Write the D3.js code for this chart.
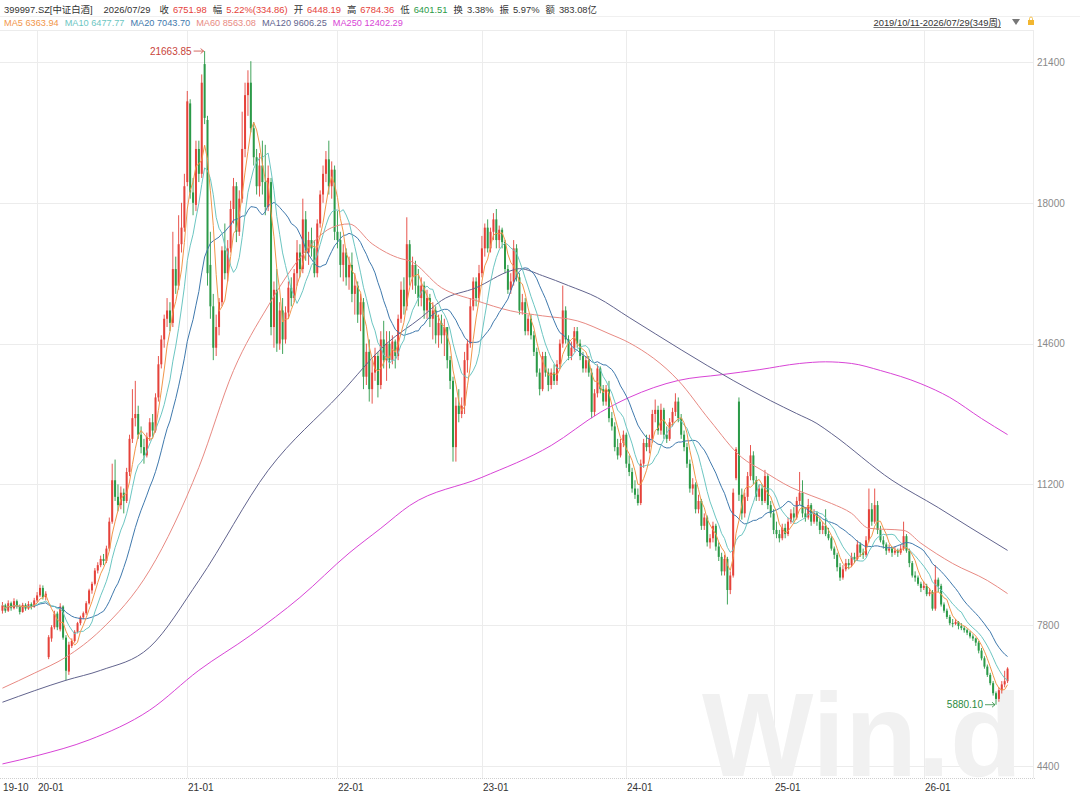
<!DOCTYPE html>
<html>
<head>
<meta charset="utf-8">
<script src="https://cdn.jsdelivr.net/npm/d3@7"></script>
<style>
  body { margin: 0; background: #fff; }
  text { font-family: "Liberation Sans", "Noto Sans CJK SC", sans-serif; }
</style>
</head>
<body>
<div id="chart"></div>
<script>
// weekly candles [open, high, low, close], 2019/10/11 - 2026/07/29 (349 weeks)
var candles = [
  // 2019-10 .. 2019-12
  [8150,8360,8080,8280],[8280,8320,8100,8150],[8150,8400,8120,8330],[8330,8370,8150,8210],
  [8210,8450,8180,8380],[8380,8420,8200,8260],[8260,8300,8060,8120],[8120,8340,8100,8290],
  [8290,8330,8150,8200],[8200,8380,8170,8310],[8310,8350,8180,8240],[8240,8460,8220,8400],
  // 2020
  [8400,8600,8350,8520],[8520,8780,8480,8700],[8700,8760,8420,8480],[8480,8620,8400,8560],
  [7030,7560,6980,7510],[7480,7800,7400,7750],[7750,8150,7700,8080],[8080,8130,7680,7750],
  [7700,8330,7650,8250],[8250,8280,7450,7500],[7500,7560,6470,6700],[6680,7400,6600,7330],
  [7300,7480,7250,7420],[7420,7680,7380,7640],[7640,7880,7600,7850],[7850,8030,7800,7990],
  [7990,8130,7950,8090],[8090,8380,8050,8330],[8330,8680,8300,8640],[8640,8850,8560,8800],
  [8800,9180,8760,9120],[9120,9320,9050,9250],[9250,9480,9200,9400],[9400,9520,9250,9350],
  [9350,9720,9300,9650],[9650,10400,9600,10300],[10300,11700,10250,11300],[11300,11800,10800,10900],
  [10900,11200,10550,10700],[10700,11150,10600,11000],[11000,11100,10500,10800],[10800,11600,10750,11500],
  [11500,12400,11400,12300],[12300,13500,12200,12800],[12800,13700,12600,12900],[12900,13100,12300,12400],
  [12400,12600,11950,12100],[12100,12300,11700,11900],[11900,12450,11850,12350],[12350,12800,12250,12700],
  [12700,12900,12350,12500],[12500,13400,12450,13300],[13300,14300,13200,14100],[14100,14800,14000,14700],
  [14700,15300,14500,15200],[15200,15700,15000,15400],[15400,15600,14900,15100],[15100,17300,15000,16400],
  [16400,16700,15800,16000],[16000,17700,15900,17000],[17000,18000,16800,17400],[17400,18700,17300,18400],
  // 2021
  [18500,20700,18400,20450],[20400,20500,18100,18250],[18250,18600,17700,18000],[17950,19500,17800,19300],
  [19300,19500,18500,18700],[18700,21100,18600,20900],[21350,21663.85,19900,20050],[20000,20100,16000,16300],
  [16500,17300,15200,15500],[15500,15800,14200,14500],[14500,15300,14300,15000],[15000,15700,14800,15600],
  [15600,16950,15500,16850],[16850,17500,16150,16300],[16300,17100,16100,16900],[16900,18050,16800,17850],
  [17850,18600,17500,18400],[18400,18500,17050,17300],[17300,18300,17200,18100],[18100,20200,18000,19300],
  [19300,20900,19100,20600],[20600,21200,20100,20900],[20900,21420,19700,19800],[19800,19950,18900,19100],
  [19100,19300,18200,18400],[18400,19200,18150,18900],[18900,19500,18200,18500],[18500,19400,17700,17900],
  [17900,18900,17800,18600],[18500,18600,14800,15000],[15000,16100,14500,15900],[15900,16400,14400,14600],
  [14600,15600,14450,15400],[15400,15700,14350,14700],[14700,15500,14600,15350],[15350,16100,15200,15950],
  [15950,16200,15500,15700],[15700,16400,15600,16300],[16300,17100,16000,16800],[16800,17000,16200,16400],
  [16400,18100,16300,17600],[17600,17800,16600,16800],[16800,17300,16500,17100],[17100,17400,16700,16900],
  [16900,17100,16200,16300],[16300,17600,16200,17500],[17500,18300,17400,18200],[18200,18900,18000,18700],
  [18700,19250,18500,19050],[19050,19500,18200,18400],[18400,19000,18100,18800],[18800,18900,17100,17300],
  // 2022
  [17300,17800,16900,17100],[17100,17300,16200,16500],[16500,17000,16100,16800],[16800,16900,16000,16200],
  [16200,16700,15900,16500],[16500,16800,15600,15800],[15800,16300,15300,16000],[16000,16100,15100,15300],
  [15300,15800,14900,15600],[15600,15700,13500,13800],[13800,14600,13600,14400],[14400,14700,13200,13500],
  [13500,14200,13150,13900],[13900,14500,13700,14300],[14300,14400,13300,13600],[13600,14900,13500,14700],
  [14700,15150,14000,14200],[14200,14900,13700,14600],[14600,14900,14000,14200],[14200,14800,14100,14650],
  [14650,14700,14000,14300],[14300,15300,14200,15200],[15200,16100,15100,15900],[15900,16200,15300,15500],
  [15500,17650,15400,17000],[17000,17100,16000,16200],[16200,16700,15900,16500],[16500,16600,15800,16000],
  [16000,16400,15500,15700],[15700,16200,15500,16000],[16000,16100,15200,15400],[15400,15900,15200,15700],
  [15700,15800,15000,15200],[15200,15600,14700,15400],[15400,15500,14600,14800],[14800,15300,14500,15100],
  [15100,15300,14600,14800],[14800,15200,14300,15000],[15000,15000,14000,14200],[14200,14300,13500,13700],
  [13700,13800,11750,12100],[12100,13300,11750,13100],[13100,13500,12700,12900],[12900,13300,12800,13100],
  [13100,14400,12900,14200],[14200,14700,13900,14600],[14600,15700,14500,15500],[15500,16200,15400,16100],
  [16100,16200,15500,15700],[15700,16500,15600,16300],
  // 2023
  [16300,17200,16200,16900],[16900,17500,16700,17400],[17400,17600,16800,16900],[16900,17400,16800,17300],
  [17300,17750,17100,17600],[17600,17850,16900,17100],[17100,17450,16900,17350],[17350,17400,16900,17050],
  [17050,17100,16300,16400],[16400,16500,15800,15900],[15900,16300,15800,16100],[16100,17100,16000,16900],
  [16900,17000,16100,16200],[16200,16300,15300,15400],[15400,15800,15300,15600],[15600,15700,14800,14900],
  [14900,15300,14800,15200],[15200,15300,14700,14800],[14800,14900,14300,14400],[14400,14500,13800,13900],
  [13900,14000,13350,13500],[13500,14400,13450,14300],[14300,14400,13800,13900],[13900,14000,13450,13600],
  [13600,14000,13500,13900],[13900,14100,13600,13700],[13700,14200,13600,14100],[14100,14700,14000,14600],
  [14600,16000,14500,15400],[15400,15500,14600,14700],[14700,14800,14200,14300],[14300,14650,14200,14500],
  [14500,15000,14400,14900],[14900,15000,14500,14600],[14600,14700,14200,14300],[14300,14400,13900,14000],
  [14000,14300,13900,14200],[14200,14300,13800,13900],[13900,14000,12800,12950],[12950,13500,12850,13400],
  [13400,14100,13300,14000],[14000,14050,13400,13500],[13500,13600,13100,13200],[13200,13600,13100,13500],
  [13500,13700,12700,12800],[12800,12950,12500,12600],[12600,12700,12000,12100],[12100,12300,11800,11900],
  [11900,12300,11850,12200],[12200,12500,12100,12400],
  // 2024
  [12400,12450,11600,11700],[11700,11900,11400,11500],[11500,11600,11000,11100],[11100,11300,10850,10950],
  [10950,11100,10690,10750],[10750,11800,10700,11700],[11700,12300,11600,12200],[12200,12400,12000,12100],
  [12100,12400,11950,12300],[12300,13000,12200,12900],[12900,13250,12700,13000],[13000,13100,12400,12500],
  [12500,13150,12400,13000],[13000,13050,12300,12400],[12400,12600,12200,12300],[12300,12800,12250,12700],
  [12700,13050,12600,12950],[12950,13400,12850,13200],[13200,13300,12700,12800],[12800,12900,12300,12400],
  [12400,12500,12000,12100],[12100,12200,11600,11700],[11700,11800,11000,11100],[11100,11350,10950,11200],
  [11200,11250,10500,10600],[10600,10950,10500,10800],[10800,10850,10100,10200],[10200,10500,10100,10400],
  [10400,10450,9700,9800],[9800,10000,9650,9900],[9900,10300,9800,10200],[10200,10250,9600,9700],
  [9700,9800,9350,9450],[9450,9550,9000,9100],[9100,9500,9000,9400],[9400,9450,8300,8650],
  [8650,9100,8550,9000],[9000,11100,8950,11000],[11350,12100,11300,12050],[13200,13300,10800,10950],
  [10950,11100,10350,10500],[10500,11000,10400,10900],[10900,11500,10800,11400],[11400,12150,11300,11900],
  [11900,12000,11200,11300],[11300,11400,10800,10900],[10900,11200,10800,11100],[11100,11200,10700,10800],
  [10800,11550,10750,11400],[11400,11450,10600,10700],[10700,10800,10400,10500],
  // 2025
  [10500,10600,10000,10100],[10100,10300,9900,10000],[10000,10100,9800,9900],[9900,10250,9850,10150],
  [10150,10250,9900,10000],[10000,10400,9950,10300],[10300,10600,10250,10500],[10500,10650,10300,10400],
  [10400,10900,10350,10800],[10800,11500,10700,11000],[11000,11300,10400,10500],[10500,10650,10300,10400],
  [10400,10850,10350,10700],[10700,10750,10200,10300],[10300,10600,10250,10500],[10500,10550,10200,10300],
  [10300,10400,10000,10100],[10100,10300,10000,10200],[10200,10600,9950,10000],[10000,10150,9850,9900],
  [9900,9950,9600,9650],[9650,9700,9400,9500],[9500,9550,9100,9200],[9200,9300,8870,8950],
  [8950,9250,8900,9150],[9150,9400,9100,9300],[9300,9400,9150,9250],[9250,9550,9200,9450],
  [9450,9550,9300,9400],[9400,9850,9350,9750],[9750,9800,9450,9550],[9550,9650,9400,9500],
  [9500,9950,9450,9850],[9850,11100,9800,10600],[10600,10750,10200,10300],[10300,11100,10250,10700],
  [10700,10800,10000,10100],[10100,10200,9800,9850],[9850,9950,9650,9750],[9750,9800,9500,9600],
  [9600,9750,9550,9650],[9650,9700,9450,9550],[9550,9700,9500,9600],[9600,9650,9450,9550],
  [9550,9750,9500,9650],[9650,10300,9600,9950],[9950,10000,9550,9600],[9600,9650,9200,9300],
  [9300,9350,8950,9000],[9000,9100,8850,8950],[8950,9000,8750,8800],[8800,8850,8600,8700],
  // 2026
  [8700,8850,8650,8750],[8750,8800,8500,8550],[8550,8700,8500,8600],[8600,8650,8150,8200],
  [8200,9250,8150,8900],[8900,8950,8600,8750],[8750,8800,8250,8300],[8300,8350,8100,8150],
  [8150,8200,7950,8000],[8000,8050,7800,7850],[7850,7950,7750,7830],[7830,7950,7800,7880],
  [7880,7900,7700,7780],[7780,7850,7680,7730],[7730,7780,7620,7680],[7680,7720,7560,7620],
  [7620,7660,7480,7530],[7530,7580,7420,7480],[7480,7500,7300,7380],[7380,7420,7120,7186],
  [7186,7250,6950,7000],[7000,7050,6750,6800],[6800,6850,6550,6600],[6600,6650,6350,6400],
  [6400,6450,6100,6158],[6158,6200,5880.10,6020],[6020,6300,5950,6230],[6230,6450,6150,6370],
  [6370,6700,6300,6448],[6448.19,6784.36,6401.51,6751.98]
];

// long averages: [week index, value]
var ma60Read = [[0,6280],[11,6640],[22,7030],[34,7680],[51,9130],[68,11610],[80,13950],[92,15510],
  [103,16670],[114,17400],[120,17490],[128,17010],[138,16650],[141,16600],[152,15950],[164,15640],
  [176,15390],[187,15270],[199,15150],[210,14840],[217,14620],[234,13710],[245,12740],[256,11850],
  [263,11540],[273,11130],[280,10930],[287,10740],[294,10500],[300,10140],[312,10090],[318,9780],
  [329,9290],[341,8880],[348,8563.08]];
var ma120Read = [[0,5940],[22,6470],[34,6710],[51,7270],[68,8880],[92,11540],[117,13390],[133,14600],
  [145,15230],[152,15640],[164,15950],[176,16360],[179,16410],[187,16240],[196,16000],[206,15710],
  [217,15230],[253,13710],[266,13220],[275,12910],[282,12670],[287,12430],[308,11300],[324,10640],
  [335,10160],[348,9606.25]];
var ma250Read = [[0,4450],[12,4650],[30,5030],[51,5750],[68,6710],[86,7560],[103,8470],[120,9540],
  [131,10140],[141,10690],[166,11370],[190,12140],[207,12940],[217,13300],[234,13710],[249,13850],
  [262,13970],[276,14120],[285,14160],[294,14120],[304,13950],[318,13630],[328,13300],[339,12790],
  [348,12402.29]];

var tickIndex = [0, 12, 64, 116, 166, 216, 267, 319];
var tickLabels = ["19-10", "20-01", "21-01", "22-01", "23-01", "24-01", "25-01", "26-01"];
var priceTicks = [4400, 7800, 11200, 14600, 18000, 21400];

var codeName = "399997.SZ[中证白酒]";
var quoteDate = "2026/07/29";
var quoteLabels = ["收", "幅", "开", "高", "低", "换", "振", "额"];
var quoteValues = ["6751.98", "5.22%(334.86)", "6448.19", "6784.36", "6401.51", "3.38%", "5.97%", "383.08亿"];
var maLabels = ["MA5", "MA10", "MA20", "MA60", "MA120", "MA250"];
var maValues = ["6363.94", "6477.77", "7043.70", "8563.08", "9606.25", "12402.29"];
var rangeLabel = "2019/10/11-2026/07/29(349周)";

var UP = "#e5423a", DOWN = "#2b9a48";
var maColors = ["#f2964a", "#6cc6c2", "#3f79ad", "#e88a83", "#62648e", "#d844d6"];
var quoteColors = [UP, UP, UP, UP, DOWN, "#333", "#333", "#333"];

var W = 1080, H = 793;
var svg = d3.select("#chart").append("svg")
  .attr("width", W)
  .attr("height", H);

// scales
var x = d3.scaleBand().domain(d3.range(candles.length)).range([1, 1009]);
var y = d3.scaleLinear().domain([4400, 21400]).range([766, 62]);
function cx(i) { return x(i) + x.bandwidth() / 2; }

var plotRight = 1033, plotTop = 30, axisY = 778;

// frame and grid
var grid = svg.append("g").attr("stroke", "#ececec").attr("stroke-width", 1);
grid.append("line").attr("x1", 0).attr("x2", W).attr("y1", 16.5).attr("y2", 16.5).attr("stroke", "#f0f0f0");
grid.append("line").attr("x1", 0).attr("x2", plotRight).attr("y1", plotTop + 0.5).attr("y2", plotTop + 0.5);
grid.append("line").attr("x1", plotRight + 0.5).attr("x2", plotRight + 0.5).attr("y1", plotTop).attr("y2", axisY);
grid.selectAll(".hg").data(priceTicks).enter().append("line")
  .attr("x1", 0).attr("x2", plotRight)
  .attr("y1", function(d) { return Math.round(y(d)) + 0.5; })
  .attr("y2", function(d) { return Math.round(y(d)) + 0.5; });
grid.selectAll(".vg").data(tickIndex.slice(1)).enter().append("line")
  .attr("x1", function(d) { return Math.round(cx(d)) + 0.5; })
  .attr("x2", function(d) { return Math.round(cx(d)) + 0.5; })
  .attr("y1", plotTop).attr("y2", axisY);
svg.append("line")
  .attr("x1", 0).attr("x2", plotRight + 3)
  .attr("y1", axisY + 0.5).attr("y2", axisY + 0.5)
  .attr("stroke", "#cfcfcf").attr("stroke-dasharray", "1,1");

// watermark
svg.append("text")
  .attr("x", 702).attr("y", 776)
  .attr("font-size", 118).attr("font-weight", "bold")
  .attr("fill", "#f1f1f1")
  .text("Win.d");

// price axis (right)
var yAxis = d3.axisRight(y).tickValues(priceTicks).tickSize(0).tickPadding(0)
  .tickFormat(d3.format("d"));
var gy = svg.append("g")
  .attr("transform", "translate(1037,0)")
  .call(yAxis);
gy.select(".domain").remove();
gy.selectAll("text").attr("fill", "#8a8a8a").attr("font-size", 10)
  .style("font-family", "'Liberation Sans', sans-serif");

// time axis (bottom)
var gx = svg.append("g");
gx.selectAll("text").data(tickIndex).enter().append("text")
  .attr("x", function(d, i) { return i === 0 ? 3 : Math.round(cx(d)) + 1; })
  .attr("y", 791)
  .attr("font-size", 10)
  .attr("fill", "#333")
  .text(function(d, i) { return tickLabels[i]; });

// candles
var bodyW = 2;
var cg = svg.append("g");
var cs = cg.selectAll("g").data(candles).enter().append("g")
  .attr("stroke", function(d) { return d[3] >= d[0] ? UP : DOWN; })
  .attr("fill", function(d) { return d[3] >= d[0] ? UP : DOWN; });
cs.append("line")
  .attr("x1", function(d, i) { return cx(i); })
  .attr("x2", function(d, i) { return cx(i); })
  .attr("y1", function(d) { return y(d[1]); })
  .attr("y2", function(d) { return y(d[2]); })
  .attr("stroke-width", 0.9);
cs.append("rect")
  .attr("stroke", "none")
  .attr("x", function(d, i) { return cx(i) - bodyW / 2; })
  .attr("width", bodyW)
  .attr("y", function(d) { return y(Math.max(d[0], d[3])); })
  .attr("height", function(d) { return Math.max(1, Math.abs(y(d[0]) - y(d[3]))); });

// moving averages
var closes = candles.map(function(d) { return d[3]; });
function movingAvg(n) {
  return closes.map(function(c, i) {
    return d3.mean(closes.slice(Math.max(0, i - n + 1), i + 1));
  });
}
var maLine = d3.line()
  .x(function(d, i) { return cx(i); })
  .y(function(d) { return y(d); });
var readLine = d3.line()
  .x(function(d) { return cx(d[0]); })
  .y(function(d) { return y(d[1]); })
  .curve(d3.curveMonotoneX);

var mg = svg.append("g").attr("fill", "none").attr("stroke-width", 1);
mg.append("path").attr("d", readLine(ma250Read)).attr("stroke", maColors[5]);
mg.append("path").attr("d", readLine(ma120Read)).attr("stroke", maColors[4]);
mg.append("path").attr("d", readLine(ma60Read)).attr("stroke", maColors[3]);
mg.append("path").attr("d", maLine(movingAvg(20))).attr("stroke", maColors[2]);
mg.append("path").attr("d", maLine(movingAvg(10))).attr("stroke", maColors[1]);
mg.append("path").attr("d", maLine(movingAvg(5))).attr("stroke", maColors[0]);

// max / min markers
function marker(idx, val, color, yv) {
  var px = cx(idx), py = y(yv);
  var g = svg.append("g");
  g.append("text")
    .attr("x", px - 13).attr("y", py + 3.5)
    .attr("text-anchor", "end")
    .attr("font-size", 10)
    .attr("fill", color)
    .text(val);
  g.append("line")
    .attr("x1", px - 11).attr("x2", px - 1)
    .attr("y1", py).attr("y2", py)
    .attr("stroke", color).attr("stroke-width", 0.8);
  g.append("path")
    .attr("d", "M" + (px - 4) + "," + (py - 2.5) + "L" + (px - 1) + "," + py + "L" + (px - 4) + "," + (py + 2.5))
    .attr("fill", "none").attr("stroke", color).attr("stroke-width", 0.8);
}
var hiIdx = d3.maxIndex(candles, function(d) { return d[1]; });
var loIdx = d3.minIndex(candles, function(d) { return d[2]; });
marker(hiIdx, d3.format(".2f")(candles[hiIdx][1]), "#c8443a", candles[hiIdx][1]);
marker(loIdx, d3.format(".2f")(candles[loIdx][2]), "#2b8a3e", candles[loIdx][2]);

// header row 1
var h1 = svg.append("text").attr("x", 4).attr("y", 12.5).attr("font-size", 9.4).attr("fill", "#333");
h1.append("tspan").text(codeName);
h1.append("tspan").attr("dx", 11).text(quoteDate);
quoteLabels.forEach(function(l, i) {
  h1.append("tspan").attr("dx", i === 0 ? 9 : 6).attr("fill", "#333").text(l);
  h1.append("tspan").attr("dx", 4).attr("fill", quoteColors[i]).text(quoteValues[i]);
});

// header row 2 (MA legend)
var h2 = svg.append("text").attr("x", 4).attr("y", 25.5).attr("font-size", 9.2);
maLabels.forEach(function(l, i) {
  h2.append("tspan").attr("dx", i === 0 ? 0 : 6).attr("fill", maColors[i])
    .text(l + " " + maValues[i]);
});

// range selector
var rt = svg.append("text")
  .attr("x", 1001).attr("y", 25.5)
  .attr("text-anchor", "end")
  .attr("font-size", 9.4)
  .attr("fill", "#333")
  .text(rangeLabel);
var rw = rt.node().getComputedTextLength();
svg.append("line")
  .attr("x1", 1001 - rw).attr("x2", 1001)
  .attr("y1", 27.5).attr("y2", 27.5)
  .attr("stroke", "#555").attr("stroke-width", 0.8);
svg.append("path")
  .attr("d", "M1012,19L1020,19L1016,25Z")
  .attr("fill", "#777");
svg.append("rect")
  .attr("x", 1028).attr("y", 20).attr("width", 6).attr("height", 5)
  .attr("fill", "#f2b630");
svg.append("path")
  .attr("d", "M1029.5,20V18.5a1.5,1.5 0 0 1 3,0V20")
  .attr("fill", "none").attr("stroke", "#f2b630").attr("stroke-width", 0.8);
</script>
</body>
</html>
